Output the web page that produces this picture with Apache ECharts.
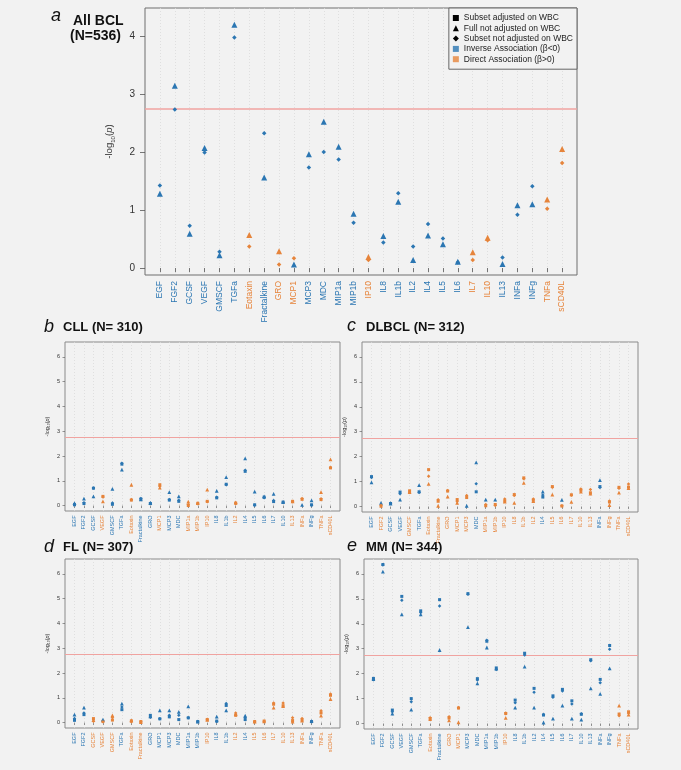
<!DOCTYPE html>
<html><head><meta charset="utf-8">
<script src="https://cdn.jsdelivr.net/npm/echarts@6/dist/echarts.min.js"></script>
<style>html,body{margin:0;padding:0;background:#f2f2f2}#c{width:681px;height:770px}</style>
</head><body><div id="c"></div><script>
// ---------- data ----------
const cats = ['EGF','FGF2','GCSF','VEGF','GMSCF','TGFa','Eotaxin','Fractalkine','GRO','MCP1','MCP3','MDC','MIP1a','MIP1b','IP10','IL8','IL1b','IL2','IL4','IL5','IL6','IL7','IL10','IL13','INFa','INFg','TNFa','sCD40L'];
const yTicksA = [0,1,2,3,4];
const yTicksB = [0,1,2,3,4,5,6];
const threshold = 2.75; // Bonferroni line, -log10(0.05/28)

// panel a: All BCL
const aFull = [1.28,3.14,0.59,2.07,0.22,4.19,0.57,1.56,0.29,0.06,1.96,2.52,2.09,0.935,0.19,0.55,1.14,0.14,0.56,0.41,0.11,0.27,0.52,0.07,1.08,1.10,1.18,2.05];
const aSub  = [1.42,2.73,0.73,1.99,0.28,3.97,0.37,2.32,0.06,0.17,1.73,2.00,1.87,0.78,0.14,0.44,1.29,0.37,0.76,0.51,0.10,0.14,0.48,0.18,0.92,1.41,1.02,1.81];
const aAdj  = [];
const aDirFull = 'BBBBBBOBOBBBBBOBBBBBBOOBBBOO';
const aDirSub  = 'BBBBBBOBOOBBBBOBBBBBBOOBBBOO';

// panel b: CLL
const bFull = [0.10,0.28,0.37,0.17,0.67,1.45,0.84,0.25,0.10,0.72,0.54,0.37,0.16,0.10,0.64,0.59,1.15,0.13,1.90,0.56,0.37,0.47,0.14,0.17,0.03,0.21,0.54,1.86];
const bSub  = [0.05,0.11,0.71,0.35,0.10,1.71,0.24,0.28,0.10,0.78,0.24,0.21,0.04,0.07,0.15,0.33,0.84,0.07,1.42,0.01,0.31,0.20,0.13,0.15,0.28,0.01,0.27,1.54];
const bAdj  = [0.03,0.08,0.70,0.37,0.05,1.67,0.22,0.26,0.08,0.84,0.22,0.17,0.00,0.09,0.17,0.31,0.86,0.10,1.38,0.03,0.34,0.16,0.14,0.17,0.25,0.03,0.24,1.52];
const bDirFull = 'BBBOBBOBBOBBOOOBBOBBBBBOBBOO';
const bDirSub  = 'BBBOBBOBBOBBOOOBBOBBBBBOOBOO';

// panel c: DLBCL
const cFull = [0.97,0.15,0.12,0.28,0.58,0.86,0.91,0.03,0.40,0.15,0.03,1.77,0.28,0.28,0.20,0.15,0.95,0.22,0.60,0.48,0.27,0.19,0.60,0.52,1.06,0.06,0.56,0.74];
const cSub  = [1.16,0.05,0.13,0.51,0.56,0.56,1.21,0.27,0.64,0.20,0.44,0.91,0.08,0.04,0.30,0.44,1.11,0.30,0.46,0.77,0.03,0.45,0.70,0.68,0.76,0.22,0.73,0.90];
const cAdj  = [1.20,0.01,0.12,0.58,0.63,0.59,1.48,0.21,0.62,0.28,0.36,0.59,0.03,0.08,0.22,0.48,1.15,0.25,0.38,0.80,0.02,0.47,0.65,0.55,0.80,0.18,0.77,0.78];
const cDirFull = 'BBBBOBOOOOBBBBOOOOBOBOOOBOOO';
const cDirSub  = 'BOBBOBOOOOOBOOOOOOBOOOOOBOOO';

// panel d: FL
const dFull = [0.32,0.60,0.10,0.12,0.29,0.76,0.09,0.02,0.25,0.49,0.49,0.43,0.65,0.04,0.11,0.24,0.49,0.34,0.28,0.04,0.05,0.60,0.66,0.04,0.08,0.07,0.28,0.95];
const dSub  = [0.16,0.39,0.05,0.03,0.20,0.63,0.03,0.03,0.21,0.15,0.29,0.29,0.19,0.04,0.13,0.04,0.77,0.39,0.20,0.03,0.05,0.79,0.79,0.19,0.16,0.03,0.48,1.15];
const dAdj  = [0.09,0.32,0.16,0.05,0.10,0.52,0.07,0.04,0.29,0.15,0.23,0.12,0.19,0.04,0.12,0.06,0.69,0.29,0.12,0.04,0.06,0.74,0.68,0.08,0.10,0.04,0.39,1.10];
const dDirFull = 'BBOBOBOOBBBBBBOBBOBOOOOOOBOO';
const dDirSub  = 'BBOOOBOOBBBBBBOBBOBOOOOOOBOO';

// panel e: MM
const eFull = [1.78,6.09,0.40,4.38,0.56,4.38,0.18,2.95,0.13,0.05,3.87,1.61,3.05,2.20,0.23,0.64,2.28,0.64,0.04,0.20,0.72,0.20,0.16,1.41,1.19,2.21,0.72,0.36];
const eSub  = [1.76,6.36,0.47,4.95,0.87,4.45,0.23,4.71,0.27,0.64,5.19,1.75,3.34,2.17,0.42,0.83,2.75,1.25,0.36,1.05,1.30,0.78,0.39,2.52,1.64,2.98,0.31,0.41];
const eAdj  = [1.81,6.38,0.54,5.10,1.00,4.52,0.20,4.97,0.22,0.62,5.21,1.80,3.30,2.23,0.40,0.94,2.82,1.41,0.34,1.11,1.37,0.91,0.37,2.56,1.77,3.13,0.38,0.47];
const eDirFull = 'BBBBBBOBOOBBBBOBBBBBBBBBBBOO';
const eDirSub  = 'BBBBBBOBOOBBBBOBBBBBBBBBBBOO';

// ---------- style / layout ----------
const BLUE = '#2b76b2', ORANGE = '#e6843b';
const FONT = '"Liberation Sans", Arial, sans-serif';
const N_ADJ = 'Subset adjusted on WBC', N_FULL = 'Full not adjusted on WBC', N_SUB = 'Subset not adjusted on WBC';
const N_INV = 'Inverse Association (\u03b2<0)', N_DIR = 'Direct Association (\u03b2>0)';
const axisCats = [''].concat(cats, ['']);
const col = d => d === 'O' ? ORANGE : BLUE;

const panels = [
  {full:aFull, sub:aSub, adj:aAdj, dFull:aDirFull, dSub:aDirSub, grid:{left:145, top:8, width:432, height:267}, ymin:-0.12, ymax:4.48, ticks:yTicksA, big:true},
  {full:bFull, sub:bSub, adj:bAdj, dFull:bDirFull, dSub:bDirSub, grid:{left:65, top:342, width:275, height:169}, ymin:-0.22, ymax:6.6, ticks:yTicksB},
  {full:cFull, sub:cSub, adj:cAdj, dFull:cDirFull, dSub:cDirSub, grid:{left:362, top:342, width:276, height:170}, ymin:-0.22, ymax:6.6, ticks:yTicksB},
  {full:dFull, sub:dSub, adj:dAdj, dFull:dDirFull, dSub:dDirSub, grid:{left:65, top:559, width:275, height:169}, ymin:-0.22, ymax:6.6, ticks:yTicksB},
  {full:eFull, sub:eSub, adj:eAdj, dFull:eDirFull, dSub:eDirSub, grid:{left:364, top:559, width:274, height:170}, ymin:-0.22, ymax:6.6, ticks:yTicksB}
];

const grids = [], xAxes = [], yAxes = [], series = [];
panels.forEach((p, i) => {
  const big = !!p.big;
  grids.push(Object.assign({show:true, borderColor: big ? '#6e6e6e' : '#8a8a8a', borderWidth:1, backgroundColor:'transparent'}, p.grid));
  const inner = idx => idx > 0 && idx < axisCats.length - 1;
  xAxes.push({
    type:'category', gridIndex:i, data:axisCats, boundaryGap:false,
    axisLine:{show:false},
    axisTick:{show:true, interval:inner, length: big ? 4 : 2.5, lineStyle:{color:'#555', width: big ? 0.8 : 0.6}},
    axisLabel:{interval:0, rotate:90, fontSize: big ? 8.5 : 5.5, margin: big ? 6 : 4.5, fontFamily:FONT,
      color: v => { const k = cats.indexOf(v); return k < 0 ? 'rgba(0,0,0,0)' : col(p.dSub[k]); }},
    splitLine:{show:true, interval:inner, lineStyle:{color:'#d9d9d9', type:[1,2], width:0.8}}
  });
  const fs = big ? 9.5 : 5.5;
  yAxes.push({
    type:'value', gridIndex:i, min:p.ymin, max:p.ymax,
    axisLine:{show:false}, splitLine:{show:false},
    axisTick:{show:true, customValues:p.ticks, length: big ? 5 : 2.5, lineStyle:{color:'#555', width: big ? 0.8 : 0.6}},
    axisLabel:{customValues:p.ticks, fontSize: big ? 10 : 5.5, margin: big ? 10 : 5, color:'#333', fontFamily:FONT},
    name:'{n|-log}{s|10}{n|(}{i|p}{n|)}', nameLocation:'middle', nameRotate:90, nameGap: big ? 29 : 14,
    nameTextStyle:{fontFamily:FONT, color:'#333', rich:{
      n:{fontSize:fs, fontFamily:FONT, color:'#333', lineHeight:fs*1.3, verticalAlign:'middle'},
      s:{fontSize:fs*0.65, fontFamily:FONT, color:'#333', verticalAlign:'bottom', lineHeight:fs*1.3},
      i:{fontSize:fs, fontFamily:FONT, fontStyle:'italic', color:'#333', lineHeight:fs*1.3, verticalAlign:'middle'}}}
  });
  const mk = (name, vals, dirs, symbol, size, extra) => Object.assign({
    name, type:'scatter', xAxisIndex:i, yAxisIndex:i, symbol, symbolSize:size,
    data: vals.map((v, k) => [cats[k], v]),
    itemStyle:{color: prm => col(dirs[prm.dataIndex]), opacity:1},
    emphasis:{disabled:true}, z:3
  }, extra || {});
  series.push(mk(N_ADJ, p.adj, p.dSub, 'rect', big ? 5 : 3));
  series.push(mk(N_FULL, p.full, p.dFull, 'triangle', big ? 6 : 3.8, {
    markLine:{silent:true, symbol:'none', label:{show:false}, z:1,
      lineStyle:{color:'#f0a3a0', width: big ? 1.6 : 1, type:'solid'}, data:[{yAxis:threshold}]}
  }));
  series.push(mk(N_SUB, p.sub, p.dSub, 'diamond', big ? 4.5 : 3.5));
});
series.push({name:N_INV, type:'scatter', xAxisIndex:0, yAxisIndex:0, data:[], itemStyle:{color:BLUE}});
series.push({name:N_DIR, type:'scatter', xAxisIndex:0, yAxisIndex:0, data:[], itemStyle:{color:ORANGE}});

const tl = (text, left, top, size, italic) => ({text, left, top, padding:0,
  textStyle:{fontFamily:FONT, fontSize:size, fontWeight: italic ? 'normal' : 'bold', fontStyle: italic ? 'italic' : 'normal', color:'#111'}});

const option = {
  backgroundColor:'#f2f2f2',
  animation:false,
  textStyle:{fontFamily:FONT},
  title:[
    tl('a', 51, 7, 18, true), tl('All BCL', 73, 14, 14), tl('(N=536)', 70, 29, 14),
    tl('b', 44, 318, 18, true), tl('CLL (N= 310)', 63, 321, 13),
    tl('c', 347, 317, 18, true), tl('DLBCL (N= 312)', 366, 321, 13),
    tl('d', 44, 538, 18, true), tl('FL (N= 307)', 63, 541, 13),
    tl('e', 347, 537, 18, true), tl('MM (N= 344)', 366, 541, 13)
  ],
  legend:{right:104, top:8, orient:'vertical', selectedMode:false, padding:[5,4,5,4], itemGap:0.3,
    itemWidth:6, itemHeight:6, borderColor:'#666', borderWidth:1, borderRadius:0, backgroundColor:'#f2f2f2',
    textStyle:{fontSize:8.5, fontFamily:FONT, color:'#222', lineHeight:10},
    data:[
      {name:N_ADJ, icon:'rect', itemStyle:{color:'#000'}},
      {name:N_FULL, icon:'triangle', itemStyle:{color:'#000'}},
      {name:N_SUB, icon:'diamond', itemStyle:{color:'#000'}},
      {name:N_INV, icon:'rect', itemStyle:{color:BLUE}},
      {name:N_DIR, icon:'rect', itemStyle:{color:ORANGE}}
    ]},
  grid:grids, xAxis:xAxes, yAxis:yAxes, series
};
const chart = echarts.init(document.getElementById('c'), null, {renderer:'canvas'});
chart.setOption(option);
</script></body></html>
